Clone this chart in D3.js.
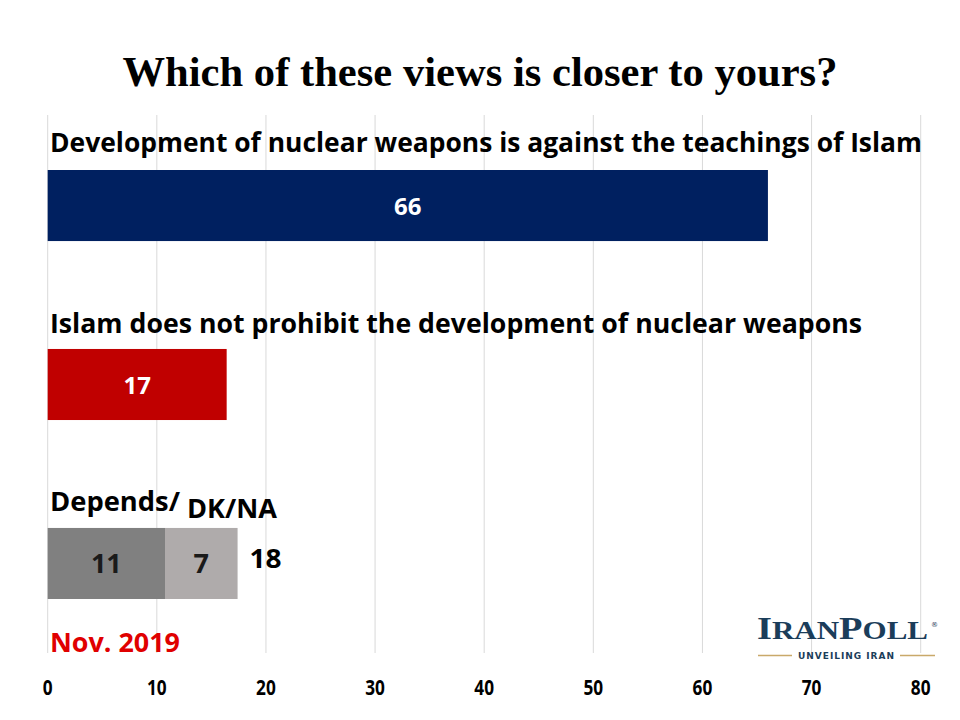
<!DOCTYPE html>
<html><head><meta charset="utf-8">
<script src="https://cdn.jsdelivr.net/npm/d3@7"></script>
<style>body{margin:0;background:#fff}svg{display:block}</style>
</head><body>
<script>
const categories = ["against", "notProhibit", "dk"];
const categoryLabels = ["Development of nuclear weapons is against the teachings of Islam",
                        "Islam does not prohibit the development of nuclear weapons",
                        "Depends/ DK/NA"];
const mainValues = [66.0, 16.4, 10.75];
const mainLabels = ["66", "17", "11"];
const extraValues = [0, 0, 6.65];
const extraLabels = ["", "", "7"];
const totalLabels = ["", "", "18"];
const barColors = ["#002060", "#C00000", "#808080"];
const xTicks = [0, 10, 20, 30, 40, 50, 60, 70, 80];

const W = 960, H = 720;
const svg = d3.select("body").append("svg").attr("width", W).attr("height", H);
svg.append("rect").attr("width", W).attr("height", H).attr("fill", "#fff");

const x = d3.scaleLinear().domain([0, 80]).range([47.7, 920.7]);
const y = d3.scaleBand().domain(categories).range([170, 599]).paddingInner(0.603).paddingOuter(0);

// gridlines
svg.append("g").selectAll("line").data(xTicks).join("line")
  .attr("x1", d => x(d)).attr("x2", d => x(d))
  .attr("y1", 115).attr("y2", 653)
  .attr("stroke", "#d9d9d9").attr("stroke-width", 1);

// title
svg.append("text").attr("x", 480).attr("y", 86).attr("text-anchor", "middle")
  .attr("font-family", "Liberation Serif, Times New Roman, serif").attr("font-weight", "bold")
  .attr("font-size", 43).attr("textLength", 715).attr("lengthAdjust", "spacingAndGlyphs")
  .attr("fill", "#000").text("Which of these views is closer to yours?");

const labelFont = "Open Sans, Noto Sans, sans-serif";

// category labels
svg.append("text").attr("x", 50).attr("y", 152).attr("font-family", labelFont).attr("font-weight", "bold")
  .attr("font-size", 26.5).attr("textLength", 872).attr("lengthAdjust", "spacingAndGlyphs")
  .text(categoryLabels[0]);
svg.append("text").attr("x", 50).attr("y", 333).attr("font-family", labelFont).attr("font-weight", "bold")
  .attr("font-size", 26.5).attr("textLength", 812).attr("lengthAdjust", "spacingAndGlyphs")
  .text(categoryLabels[1]);
const dkParts = categoryLabels[2].split(" ");
svg.append("text").attr("x", 50).attr("y", 511).attr("font-family", labelFont).attr("font-weight", "bold")
  .attr("font-size", 26.5).attr("textLength", 130).attr("lengthAdjust", "spacingAndGlyphs")
  .text(dkParts[0]);
svg.append("text").attr("x", 187).attr("y", 518).attr("font-family", labelFont).attr("font-weight", "bold")
  .attr("font-size", 26.5).attr("textLength", 90).attr("lengthAdjust", "spacingAndGlyphs")
  .text(dkParts[1]);

// main bars
svg.append("g").selectAll("rect").data(categories).join("rect")
  .attr("x", x(0)).attr("y", d => y(d))
  .attr("width", (d, i) => x(mainValues[i]) - x(0))
  .attr("height", y.bandwidth())
  .attr("fill", (d, i) => barColors[i]);
// extra (DK/NA) segment
svg.append("g").selectAll("rect").data(categories.filter((d, i) => extraValues[i] > 0)).join("rect")
  .attr("x", d => x(mainValues[categories.indexOf(d)]))
  .attr("y", d => y(d))
  .attr("width", d => x(mainValues[categories.indexOf(d)] + extraValues[categories.indexOf(d)]) - x(mainValues[categories.indexOf(d)]))
  .attr("height", y.bandwidth())
  .attr("fill", "#AFABAB");

const valFont = "Open Sans, Noto Sans, sans-serif";
// bar value labels
svg.append("g").selectAll("text").data(categories).join("text")
  .attr("x", (d, i) => (x(0) + x(mainValues[i])) / 2)
  .attr("y", d => y(d) + y.bandwidth() / 2 + (d === "dk" ? 10 : 9))
  .attr("text-anchor", "middle").attr("font-family", valFont).attr("font-weight", "bold")
  .attr("font-size", (d, i) => i === 2 ? 27 : 24)
  .attr("fill", (d, i) => i === 2 ? "#1a1a1a" : "#fff")
  .text((d, i) => mainLabels[i]);
svg.append("g").selectAll("text").data(categories.filter((d, i) => extraValues[i] > 0)).join("text")
  .attr("x", d => { const i = categories.indexOf(d); return (x(mainValues[i]) + x(mainValues[i] + extraValues[i])) / 2; })
  .attr("y", d => y(d) + y.bandwidth() / 2 + 10)
  .attr("text-anchor", "middle").attr("font-family", valFont).attr("font-weight", "bold")
  .attr("font-size", 27).attr("fill", "#1a1a1a")
  .text(d => extraLabels[categories.indexOf(d)]);
svg.append("g").selectAll("text").data(categories.filter((d, i) => totalLabels[i])).join("text")
  .attr("x", d => { const i = categories.indexOf(d); return x(mainValues[i] + extraValues[i]) + 12; })
  .attr("y", d => y(d) + y.bandwidth() / 2 + 5)
  .attr("font-family", valFont).attr("font-weight", "bold")
  .attr("font-size", 27).attr("textLength", 32).attr("lengthAdjust", "spacingAndGlyphs").attr("fill", "#000")
  .text(d => totalLabels[categories.indexOf(d)]);

// Nov 2019
svg.append("text").attr("x", 50).attr("y", 652).attr("font-family", labelFont).attr("font-weight", "bold")
  .attr("font-size", 26).attr("textLength", 130).attr("lengthAdjust", "spacingAndGlyphs")
  .attr("fill", "#E00000").text("Nov. 2019");

// x axis
const xAxis = d3.axisBottom(x).tickValues(xTicks).tickSize(0).tickPadding(0);
const gx = svg.append("g").attr("transform", "translate(0,680)").call(xAxis);
gx.select(".domain").remove();
gx.selectAll("text").attr("font-family", labelFont).attr("font-weight", "bold")
  .attr("font-size", 21).attr("fill", "#000").attr("dy", "0.71em")
  .attr("transform", d => `translate(${x(d)},0) scale(0.82,1) translate(${-x(d)},0)`);
gx.selectAll(".tick").each(function(d) {
  d3.select(this).attr("transform", null);
  d3.select(this).select("text").attr("x", x(d));
});

// logo
const logo = svg.append("g");
const lt = logo.append("text").attr("x", 757).attr("y", 639)
  .attr("font-family", "Liberation Serif, DejaVu Serif, serif").attr("font-weight", "bold").attr("fill", "#1b3d5a")
  .attr("textLength", 171).attr("lengthAdjust", "spacingAndGlyphs");
lt.append("tspan").attr("font-size", 31).text("I");
lt.append("tspan").attr("font-size", 25).text("RAN");
lt.append("tspan").attr("font-size", 31).text("P");
lt.append("tspan").attr("font-size", 25).text("OLL");
logo.append("text").attr("x", 931).attr("y", 627).attr("font-size", 7)
  .attr("font-family", "DejaVu Sans, sans-serif").attr("fill", "#1b3d5a").text("®");
logo.append("text").attr("x", 846).attr("y", 659).attr("text-anchor", "middle")
  .attr("font-family", "DejaVu Sans, sans-serif").attr("font-weight", "bold").attr("font-size", 9)
  .attr("textLength", 96).attr("lengthAdjust", "spacing")
  .attr("fill", "#1b3d5a").text("UNVEILING IRAN");
logo.append("line").attr("x1", 758).attr("x2", 792).attr("y1", 655.5).attr("y2", 655.5)
  .attr("stroke", "#c9a96a").attr("stroke-width", 1.5);
logo.append("line").attr("x1", 900).attr("x2", 935).attr("y1", 655.5).attr("y2", 655.5)
  .attr("stroke", "#c9a96a").attr("stroke-width", 1.5);
</script>
</body></html>
